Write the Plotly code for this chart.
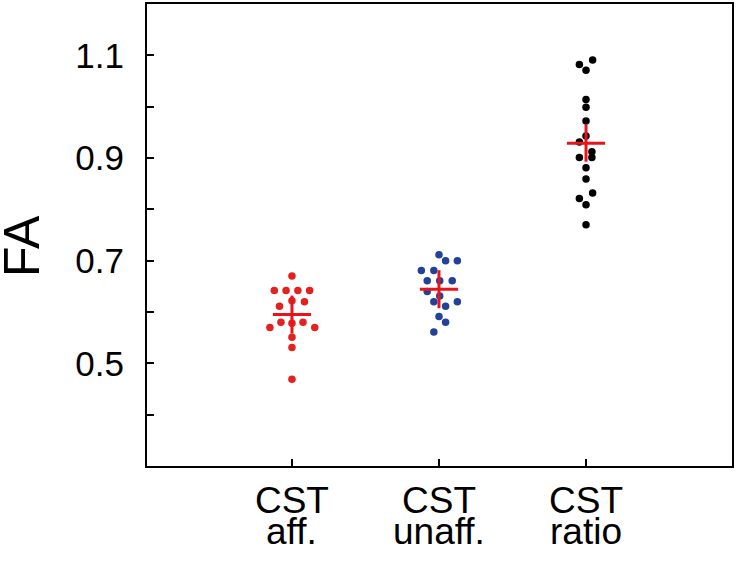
import numpy as np
import plotly.graph_objects as go

# ---- data ----
category_top = ["CST", "CST", "CST"]
category_bottom = ["aff.", "unaff.", "ratio"]

aff_values = [0.670, 0.642, 0.642, 0.642, 0.642, 0.620, 0.622, 0.611,
              0.580, 0.580, 0.578, 0.570, 0.570, 0.551, 0.531, 0.469]
aff_jitter = [0.0, -0.12, -0.04, 0.04, 0.12, 0.085, 0.0, -0.085,
              -0.075, 0.075, 0.0, -0.15, 0.155, 0.0, 0.0, 0.0]

unaff_values = [0.7115, 0.700, 0.700, 0.681, 0.681, 0.661, 0.661, 0.661,
                0.640, 0.631, 0.620, 0.620, 0.611, 0.591, 0.580, 0.561]
unaff_jitter = [0.0, 0.045, 0.125, -0.12, -0.035, -0.08, 0.005, 0.09,
                -0.08, 0.005, -0.035, 0.125, 0.045, 0.0, 0.045, -0.035]

ratio_values = [1.082, 1.091, 1.071, 1.014, 0.999, 0.972, 0.943, 0.931,
                0.912, 0.901, 0.901, 0.881, 0.859, 0.832, 0.821, 0.809, 0.770]
ratio_jitter = [-0.045, 0.045, 0.0, 0.0, 0.0, 0.0, 0.0, -0.045,
                0.04, 0.04, -0.045, 0.0, 0.0, 0.045, -0.045, 0.0, 0.0]

error_half = [0.037, 0.037, 0.036]

y_tick_vals = [0.4, 0.5, 0.6, 0.7, 0.8, 0.9, 1.0, 1.1]
y_tick_text = ["", "0.5", "", "0.7", "", "0.9", "", "1.1"]

groups = [
    (aff_values, aff_jitter, "#e3211f"),
    (unaff_values, unaff_jitter, "#22429a"),
    (ratio_values, ratio_jitter, "#000000"),
]

fig = go.Figure()

for i, (vals, jit, col) in enumerate(groups):
    pos = i + 1
    fig.add_trace(go.Scatter(
        x=[pos + j for j in jit], y=vals, mode="markers",
        marker=dict(size=7.5, color=col, line=dict(width=0)),
        showlegend=False, hoverinfo="y"))

for i, (vals, jit, col) in enumerate(groups):
    pos = i + 1
    m = float(np.mean(vals))
    e = error_half[i]
    fig.add_trace(go.Scatter(
        x=[pos - 0.13, pos + 0.13, None, pos, pos],
        y=[m, m, None, m - e, m + e],
        mode="lines", line=dict(color="#e8141c", width=3),
        showlegend=False, hoverinfo="skip"))

annotations = [dict(
    text="FA", xref="paper", yref="paper", x=-0.214, y=0.476,
    textangle=-90, showarrow=False, font=dict(size=50, color="black"),
    xanchor="center", yanchor="middle")]
for i, lab in enumerate(category_bottom):
    annotations.append(dict(
        text=lab, xref="x", yref="paper", x=i + 1, y=0,
        xanchor="center", yanchor="top", yshift=-43, showarrow=False,
        font=dict(size=37, color="black")))

fig.update_layout(
    width=737, height=562,
    margin=dict(l=147, r=5, t=4, b=96, autoexpand=False),
    paper_bgcolor="white", plot_bgcolor="white",
    font=dict(family="Liberation Sans, Arial, sans-serif", size=35, color="black"),
    annotations=annotations,
)

fig.update_xaxes(
    range=[0.014, 3.993], tickmode="array", tickvals=[1, 2, 3], ticktext=category_top,
    tickfont=dict(size=37),
    ticks="inside", ticklen=7, tickwidth=2, tickcolor="black",
    showline=True, linecolor="black", linewidth=2, mirror=True,
    showgrid=False, zeroline=False, ticklabelstandoff=1, automargin=False)

fig.update_yaxes(
    range=[0.3, 1.2], tickmode="array", tickvals=y_tick_vals, ticktext=y_tick_text,
    ticks="inside", ticklen=7, tickwidth=2, tickcolor="black",
    showline=True, linecolor="black", linewidth=2, mirror=True,
    showgrid=False, zeroline=False, ticklabelstandoff=14, automargin=False)

fig.write_html("out.html", config={"displayModeBar": False},
               post_script="document.body.style.margin='0px';")
